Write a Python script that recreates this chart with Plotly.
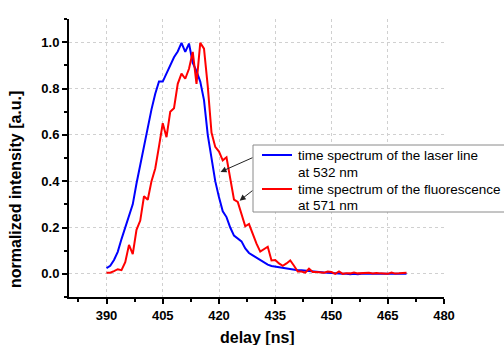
import plotly.graph_objects as go

# delay axis in ns, sampled every 1 ns
delay_ns = list(range(390, 471))

# laser line at 532 nm (normalized)
laser_532 = [
    0.025, 0.035, 0.06, 0.095, 0.15, 0.20, 0.25, 0.30, 0.39, 0.47,
    0.55, 0.64, 0.71, 0.777, 0.83, 0.83, 0.866, 0.905, 0.935, 0.96,
    0.997, 0.958, 0.994, 0.91, 0.875, 0.83, 0.75, 0.60, 0.50, 0.40,
    0.33, 0.27, 0.245, 0.20, 0.165, 0.152, 0.14, 0.11, 0.09, 0.08,
    0.07, 0.06, 0.05, 0.04, 0.034, 0.031, 0.028, 0.025, 0.023, 0.02,
    0.018, 0.016, 0.015, 0.013, 0.012, 0.01, 0.009, 0.007, 0.006, 0.005,
    0.003, 0.002, 0.001, 0.0, 0.0, -0.002, 0.0, -0.002, 0.0, 0.0,
    -0.001, 0.0, 0.0, -0.002, 0.0, 0.0, -0.001, 0.0, 0.0, -0.002,
    0.0,
]

# fluorescence at 571 nm (normalized)
fluor_571 = [
    0.005, 0.005, 0.012, 0.02, 0.016, 0.05, 0.125, 0.085, 0.19, 0.23,
    0.335, 0.32, 0.40, 0.455, 0.55, 0.65, 0.59, 0.70, 0.715, 0.82,
    0.864, 0.842, 0.885, 0.958, 0.82, 0.997, 0.972, 0.81, 0.61, 0.548,
    0.528, 0.49, 0.503, 0.41, 0.32, 0.31, 0.26, 0.205, 0.215, 0.17,
    0.13, 0.096, 0.105, 0.117, 0.058, 0.06, 0.045, 0.035, 0.045, 0.058,
    0.035, 0.01, 0.01, 0.005, 0.022, 0.008, 0.008, 0.005, 0.005, 0.01,
    0.008, 0.0, 0.01, 0.0, 0.003, 0.002, 0.006, 0.002, 0.004, 0.006,
    0.005, 0.002, 0.004, 0.002, 0.0, 0.0, 0.006, 0.001, 0.002, 0.004,
    0.005,
]

x_ticks = [390, 405, 420, 435, 450, 465, 480]
y_ticks = [0.0, 0.2, 0.4, 0.6, 0.8, 1.0]

series_names = [
    ["time spectrum of the laser line", "at 532 nm"],
    ["time spectrum of the fluorescence", "at 571 nm"],
]
series_colors = ["#0000ff", "#ff0000"]

FONT = "Arial, Liberation Sans, sans-serif"

W, H = 504, 345
ML, MR, MT, MB = 69, 60, 19, 48
PW, PH = W - ML - MR, H - MT - MB


def px_to_paper(px, py):
    """Convert a pixel position on the page to paper coordinates."""
    return (px - ML) / PW, (H - MB - py) / PH


fig = go.Figure()
for ys, nm, col in zip([laser_532, fluor_571], series_names, series_colors):
    fig.add_trace(go.Scatter(
        x=delay_ns, y=ys, mode="lines",
        line=dict(color=col, width=2),
        name=" ".join(nm), showlegend=False,
    ))

# legend box, drawn as shapes + text so the layout stays compact
bx0, by0 = px_to_paper(253, 145)
bx1, by1 = px_to_paper(520, 212)
fig.add_shape(type="rect", xref="paper", yref="paper",
              x0=bx0, x1=bx1, y0=by1, y1=by0,
              line=dict(color="#8a8a8a", width=1), fillcolor="white",
              layer="above")
row_y = [[155, 172], [189, 205.5]]
for nm, col, rows in zip(series_names, series_colors, row_y):
    lx0, ly = px_to_paper(262, rows[0])
    lx1, _ = px_to_paper(292, rows[0])
    fig.add_shape(type="line", xref="paper", yref="paper",
                  x0=lx0, x1=lx1, y0=ly, y1=ly,
                  line=dict(color=col, width=2), layer="above")
    for txt, ry in zip(nm, rows):
        tx, ty = px_to_paper(296, ry)
        fig.add_annotation(x=tx, y=ty, xref="paper", yref="paper",
                           xanchor="left", yanchor="middle", text=txt,
                           showarrow=False,
                           font=dict(family=FONT, size=13.5, color="black"))

# arrows from the legend box to each curve
arrows = [
    dict(tip=(420.4, 0.44), tail=(429.3, 0.504)),
    dict(tip=(425.5, 0.316), tail=(429.3, 0.364)),
]
for a in arrows:
    fig.add_annotation(
        x=a["tip"][0], y=a["tip"][1], ax=a["tail"][0], ay=a["tail"][1],
        xref="x", yref="y", axref="x", ayref="y",
        showarrow=True, arrowhead=2, arrowsize=1.2, arrowwidth=1,
        arrowcolor="#222222", text="",
    )

# axis titles
tx, ty = px_to_paper(257, 337)
fig.add_annotation(x=tx, y=ty, xref="paper", yref="paper",
                   xanchor="center", yanchor="middle", text="delay [ns]",
                   showarrow=False,
                   font=dict(family=FONT, size=16, color="black", weight="bold"))
tx, ty = px_to_paper(15, 190)
fig.add_annotation(x=tx, y=ty, xref="paper", yref="paper",
                   xanchor="center", yanchor="middle",
                   text="normalized intensity [a.u.]", textangle=-90,
                   showarrow=False,
                   font=dict(family=FONT, size=16, color="black", weight="bold"))

axis_common = dict(
    showline=True, linecolor="black", linewidth=2,
    ticks="outside", ticklen=5, tickwidth=1.5, tickcolor="black",
    showgrid=True, gridcolor="#d0d0d0", griddash="dot", gridwidth=1,
    zeroline=False, automargin=False,
    tickfont=dict(family=FONT, size=13, color="black", weight="bold"),
)

fig.update_xaxes(
    range=[380, 480], tickvals=x_ticks,
    ticktext=[str(v) for v in x_ticks],
    minor=dict(tickvals=[382.5 + 15 * i for i in range(7)], ticklen=3,
               tickwidth=1.5, tickcolor="black", ticks="outside",
               showgrid=False),
    **axis_common,
)
fig.update_yaxes(
    range=[-0.1, 1.1], tickvals=y_ticks,
    ticktext=[f"{v:.1f}" for v in y_ticks],
    minor=dict(tickvals=[-0.1 + 0.2 * i for i in range(7)], ticklen=3,
               tickwidth=1.5, tickcolor="black", ticks="outside",
               showgrid=False),
    **axis_common,
)

fig.update_layout(
    width=W, height=H,
    margin=dict(l=ML, r=MR, t=MT, b=MB, autoexpand=False),
    plot_bgcolor="white", paper_bgcolor="white",
    font=dict(family=FONT, color="black"),
    showlegend=False,
)

fig.write_html("out.html")
